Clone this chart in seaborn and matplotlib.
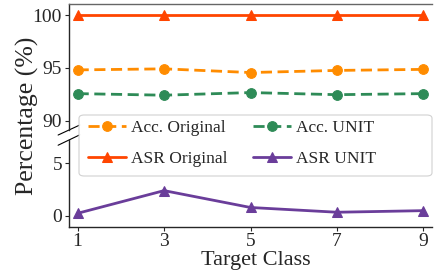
import matplotlib
matplotlib.use("Agg")
import matplotlib.pyplot as plt
from matplotlib.patches import FancyBboxPatch
import seaborn as sns

target_class = [1, 3, 5, 7, 9]
acc_original = [94.8, 94.9, 94.55, 94.75, 94.85]
acc_unit = [92.55, 92.4, 92.65, 92.45, 92.55]
asr_original = [100.0, 100.0, 100.0, 100.0, 100.0]
asr_unit = [0.25, 2.4, 0.8, 0.35, 0.5]

sns.set_style("ticks")
plt.rcParams['font.family'] = ['Liberation Serif', 'DejaVu Serif']

fig = plt.figure(figsize=(4.35, 2.73), dpi=100)
ax_top = fig.add_axes([69/435, 1-130/273, (432-69)/435, 126/273])
ax_bot = fig.add_axes([69/435, 1-227/273, (432-69)/435, 87/273])

series = [
    ("Acc. Original", acc_original, "#ff8c00", "o", (4, 2)),
    ("Acc. UNIT", acc_unit, "#2e8b57", "o", (4, 2)),
    ("ASR Original", asr_original, "#ff4500", "^", ""),
    ("ASR UNIT", asr_unit, "#6a3d9a", "^", ""),
]

for ax in (ax_top, ax_bot):
    for name, vals, color, marker, dash in series:
        sns.lineplot(x=target_class, y=vals, ax=ax, color=color, marker=marker,
                     markersize=7, markeredgecolor=color, linewidth=2,
                     dashes=False, label=name, legend=False)
        line = ax.lines[-1]
        if dash:
            line.set_dashes(dash)

ax_top.set_ylim(89.1, 101.05)
ax_bot.set_ylim(-1.05, 7.2)
ax_top.set_yticks([90, 95, 100])
ax_bot.set_yticks([0, 5])
ax_bot.set_xticks(target_class)
ax_top.set_xlim(0.8, 9.2)
ax_bot.set_xlim(0.8, 9.2)

ax_top.spines['bottom'].set_visible(False)
ax_top.spines['right'].set_visible(False)
ax_top.spines['top'].set_color('#666666')
ax_bot.spines['top'].set_visible(False)
ax_bot.spines['right'].set_visible(False)
ax_top.tick_params(axis='x', which='both', bottom=False, labelbottom=False)
for ax in (ax_top, ax_bot):
    ax.tick_params(labelsize=14, length=3, width=0.8, pad=2)
    for s in ax.spines.values():
        s.set_linewidth(1.0)
ax_bot.tick_params(axis='x', pad=1)

# break marks on the left spine
kw = dict(color='k', clip_on=False, linewidth=0.8)
ax_top.plot([-0.03, 0.03], [-0.04, 0.04], transform=ax_top.transAxes, **kw)
ax_bot.plot([-0.03, 0.03], [0.94, 1.06], transform=ax_bot.transAxes, **kw)

fig.text(27/435, 1-116/273, "Percentage (%)", rotation=90, ha='center', va='center', fontsize=18.5)
fig.text(256/435, 1-265/273, "Target Class", ha='center', va='baseline', fontsize=16)

# legend box
box = FancyBboxPatch((79/435, 1-176/273), (432-79)/435, 61/273,
                     boxstyle="round,pad=0,rounding_size=0.012",
                     transform=fig.transFigure, facecolor='white', alpha=0.9,
                     edgecolor='#cccccc', linewidth=0.8, zorder=4)
fig.patches.append(box)

h, l = ax_top.get_legend_handles_labels()
order = [0, 2, 1, 3]
fig.legend([h[i] for i in order], [l[i] for i in order], ncol=2, loc='upper left',
           bbox_to_anchor=(88/435, 1-120/273), fontsize=12.5,
           frameon=False, borderpad=0, borderaxespad=0,
           handlelength=2.2, columnspacing=1.5, handletextpad=0.25,
           labelspacing=0.85)

fig.savefig("out.png", dpi=100)
